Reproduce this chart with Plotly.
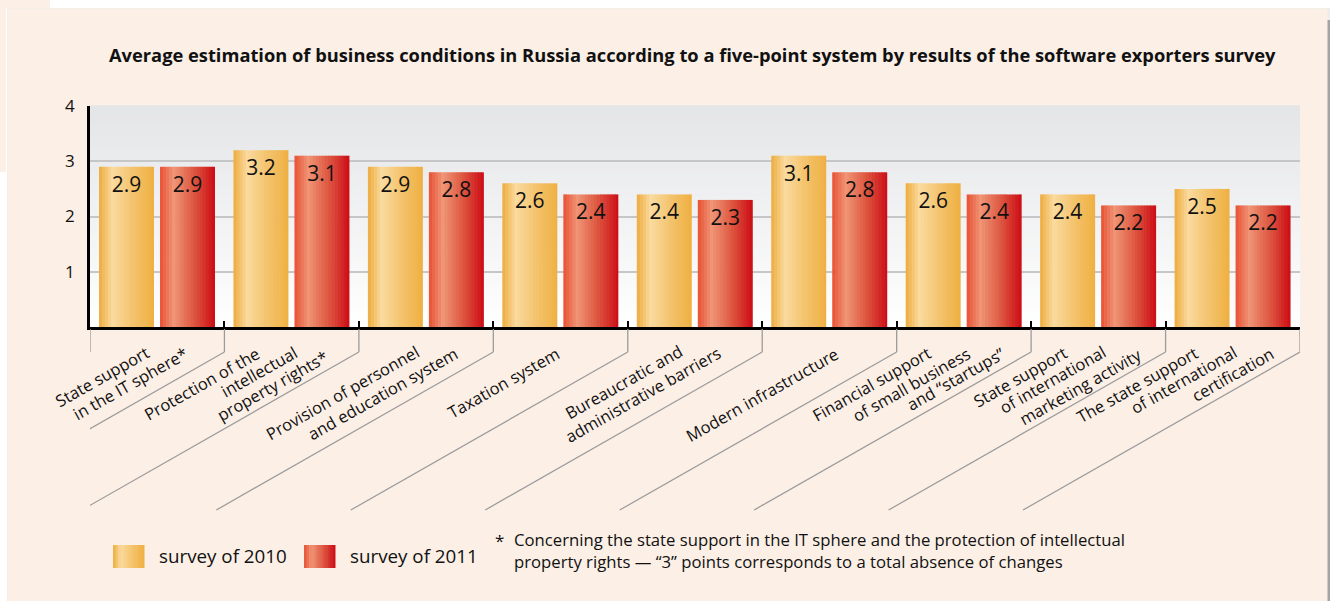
import plotly.graph_objects as go

# ---------------- data ----------------
categories = [
    ["State support", "in the IT sphere*"],
    ["Protection of the", "intellectual", "property rights*"],
    ["Provision of personnel", "and education system"],
    ["Taxation system"],
    ["Bureaucratic and", "administrative barriers"],
    ["Modern infrastructure"],
    ["Financial support", "of small business", "and \u201cstartups\u201d"],
    ["State support", "of international", "marketing activity"],
    ["The state support", "of international", "certification"],
]
survey_2010 = [2.9, 3.2, 2.9, 2.6, 2.4, 3.1, 2.6, 2.4, 2.5]
survey_2011 = [2.9, 3.1, 2.8, 2.4, 2.3, 2.8, 2.4, 2.2, 2.2]
series_names = ["survey of 2010", "survey of 2011"]
y_ticks = [1, 2, 3, 4]
title_text = ("Average estimation of business conditions in Russia according to a "
              "five-point system by results of the software exporters survey")
footnote_lines = [
    "Concerning the state support in the IT sphere and the protection of intellectual",
    "property rights \u2014 \u201c3\u201d points corresponds to a total absence of changes",
]

# ---------------- layout constants (pixels) ----------------
W, H = 1330, 601
ML, MR, MT, MB = 90, 30, 106, 274
PLOT_W = W - ML - MR
PLOT_H = H - MT - MB
X0_PX, Y0_PX = ML, H - MB
UNIT_X = PLOT_W / len(categories)
FONT = "Open Sans"
PANEL = "#fcefe6"


def px2x(px):
    return (px - X0_PX) / PLOT_W


def py2y(py):
    return (Y0_PX - py) / PLOT_H


def lerp(c1, c2, t):
    return tuple(round(a + (b - a) * t) for a, b in zip(c1, c2))


def grad(stops, t):
    for (t1, c1), (t2, c2) in zip(stops, stops[1:]):
        if t1 <= t <= t2:
            return lerp(c1, c2, (t - t1) / (t2 - t1))
    return stops[-1][1]


gradients = [
    [(0.0, (236, 172, 62)), (0.25, (250, 218, 158)), (0.6, (244, 196, 110)), (1.0, (239, 176, 66))],
    [(0.0, (232, 80, 52)), (0.25, (240, 148, 118)), (0.6, (222, 90, 66)), (1.0, (204, 12, 22))],
]

bar_w = 55 / UNIT_X
offsets = [(9 - UNIT_X / 2) / UNIT_X, (70 - UNIT_X / 2) / UNIT_X]
xs = [i + 0.5 for i in range(len(categories))]
NSTRIPE = 18

fig = go.Figure()
for s, vals in enumerate([survey_2010, survey_2011]):
    sw = bar_w / NSTRIPE
    for k in range(NSTRIPE):
        c = grad(gradients[s], (k + 0.5) / NSTRIPE)
        extra = 0.6 / UNIT_X if k < NSTRIPE - 1 else 0
        fig.add_trace(go.Bar(
            x=xs, y=vals, width=[sw + extra] * len(xs),
            offset=[offsets[s] + k * sw] * len(xs),
            marker=dict(color="rgb(%d,%d,%d)" % c, line=dict(width=0)),
            hoverinfo="skip", showlegend=False,
        ))
for s, vals in enumerate([survey_2010, survey_2011]):
    fig.add_trace(go.Bar(
        x=xs, y=vals, name=series_names[s],
        width=[bar_w] * len(xs), offset=[offsets[s]] * len(xs),
        marker=dict(color="rgba(0,0,0,0)", line=dict(width=0)),
        texttemplate="%{y:.1f}", textposition="inside", insidetextanchor="end",
        constraintext="none",
        textfont=dict(family=FONT, size=21, color="#111111"),
        showlegend=False,
    ))

shapes = []
# panel background and page decoration
shapes.append(dict(type="rect", xref="paper", yref="paper", layer="below",
                   x0=px2x(0), x1=px2x(6), y0=py2y(0), y1=py2y(172),
                   fillcolor=PANEL, line=dict(width=0)))
shapes.append(dict(type="rect", xref="paper", yref="paper", layer="below",
                   x0=px2x(0), x1=px2x(50), y0=py2y(0), y1=py2y(8),
                   fillcolor=PANEL, line=dict(width=0)))
shapes.append(dict(type="rect", xref="paper", yref="paper", layer="below",
                   x0=px2x(7), x1=px2x(1330), y0=py2y(8), y1=py2y(601),
                   fillcolor="#ececec", line=dict(width=0)))
shapes.append(dict(type="rect", xref="paper", yref="paper", layer="below",
                   x0=px2x(7.5), x1=px2x(1327.5), y0=py2y(8.5), y1=py2y(601),
                   fillcolor=PANEL, line=dict(width=0)))
shapes.append(dict(type="rect", xref="paper", yref="paper", layer="below",
                   x0=px2x(1327.5), x1=px2x(1330), y0=py2y(20), y1=py2y(601),
                   fillcolor="#a5a5a5", line=dict(width=0)))
# plot-area vertical gradient (grey top -> white bottom)
NB = 44
for b in range(NB):
    t = (b + 0.5) / NB
    c = lerp((255, 255, 255), (228, 229, 231), t)
    shapes.append(dict(type="rect", xref="paper", yref="paper", layer="below",
                       x0=0, x1=1, y0=b / NB, y1=(b + 1) / NB + 0.003,
                       fillcolor="rgb(%d,%d,%d)" % c, line=dict(width=0)))
# separators below the axis
SLOPE = 158 / 277
for bnd in range(len(categories) + 1):
    shapes.append(dict(type="line", xref="x", yref="paper",
                       x0=bnd, x1=bnd, y0=py2y(329), y1=py2y(352),
                       line=dict(color="#9c9c9c", width=1.3)))
    end_px = X0_PX + bnd * UNIT_X - 277
    end_py = 510
    if end_px < 8:
        end_py = 352 + (X0_PX + bnd * UNIT_X - 8) * SLOPE
        end_px = 8
    shapes.append(dict(type="line", xref="x", yref="paper",
                       x0=bnd, x1=(end_px - X0_PX) / UNIT_X, y0=py2y(352), y1=py2y(end_py),
                       line=dict(color="#9c9c9c", width=1.3)))
# legend swatches
legend_swatch_px = [113, 304]
for s in range(2):
    n = 12
    for k in range(n):
        c = grad(gradients[s], (k + 0.5) / n)
        x0 = legend_swatch_px[s] + k * 31 / n
        shapes.append(dict(type="rect", xref="paper", yref="paper",
                           x0=px2x(x0), x1=px2x(x0 + 31 / n + 0.5),
                           y0=py2y(545), y1=py2y(568),
                           fillcolor="rgb(%d,%d,%d)" % c, line=dict(width=0)))

annotations = []
annotations.append(dict(text="<b>%s</b>" % title_text, xref="paper", yref="paper",
                        x=px2x(692), y=py2y(55), showarrow=False,
                        xanchor="center", yanchor="middle",
                        font=dict(family=FONT, size=18.3, color="#111111")))
# category labels: per-line centres (pixel offsets from category centre, pixel y)
label_line_pos = [
    [(-55.5, 376.7), (-27.2, 383.3)],
    [(-89.9, 383.3), (-32.6, 371.7), (-19.3, 385)],
    [(-83.6, 392.3), (-43.6, 393.3)],
    [(-56.9, 382.5)],
    [(-70.8, 381.7), (-52.4, 394)],
    [(-67.5, 394)],
    [(-91.9, 383.3), (-52.9, 384), (-8.1, 378.5)],
    [(-78, 376.7), (-46.3, 379), (-18, 386.7)],
    [(-95.7, 384), (-49.1, 379), (-0.7, 374)],
]
for i, lines in enumerate(categories):
    for line, (dx, py) in zip(lines, label_line_pos[i]):
        annotations.append(dict(text=line, xref="x", yref="paper", x=i + 0.5, y=0,
                                xshift=dx, yshift=Y0_PX - py, showarrow=False,
                                textangle=-29.5, xanchor="center", yanchor="middle",
                                font=dict(family=FONT, size=16.5, color="#111111")))
legend_text_px = [157, 348]
for s in range(2):
    annotations.append(dict(text=series_names[s], xref="paper", yref="paper",
                            x=px2x(legend_text_px[s]), y=py2y(556), showarrow=False,
                            xanchor="left", yanchor="middle",
                            font=dict(family=FONT, size=18.8, color="#111111")))
annotations.append(dict(text="*", xref="paper", yref="paper", x=px2x(499), y=py2y(540),
                        showarrow=False, xanchor="center", yanchor="middle",
                        font=dict(family=FONT, size=17, color="#111111")))
for j, ln in enumerate(footnote_lines):
    annotations.append(dict(text=ln, xref="paper", yref="paper", x=px2x(512),
                            y=py2y(539 + 22 * j), showarrow=False,
                            xanchor="left", yanchor="middle",
                            font=dict(family=FONT, size=16.7, color="#111111")))

fig.update_layout(
    width=W, height=H, autosize=False,
    margin=dict(l=ML, r=MR, t=MT, b=MB, pad=0),
    paper_bgcolor="white", plot_bgcolor="white",
    barmode="overlay", showlegend=False,
    shapes=shapes, annotations=annotations,
    font=dict(family=FONT, color="#111111"),
    xaxis=dict(range=[0, len(categories)], tickvals=list(range(len(categories) + 1)),
               showticklabels=False, ticks="inside", ticklen=6, tickwidth=1.5,
               tickcolor="black", showgrid=False, zeroline=False,
               showline=True, linecolor="black", linewidth=2.5, fixedrange=True),
    yaxis=dict(range=[0, 4], tickvals=y_ticks, ticks="", ticklabelstandoff=9,
               tickfont=dict(family=FONT, size=17, color="#111111"),
               showgrid=True, gridcolor="#c6c6c6", gridwidth=1.5, zeroline=False,
               showline=True, linecolor="black", linewidth=2.5, fixedrange=True),
)

fig.write_html("out.html", config={"displayModeBar": False},
               post_script="document.body.style.margin='0px';")
